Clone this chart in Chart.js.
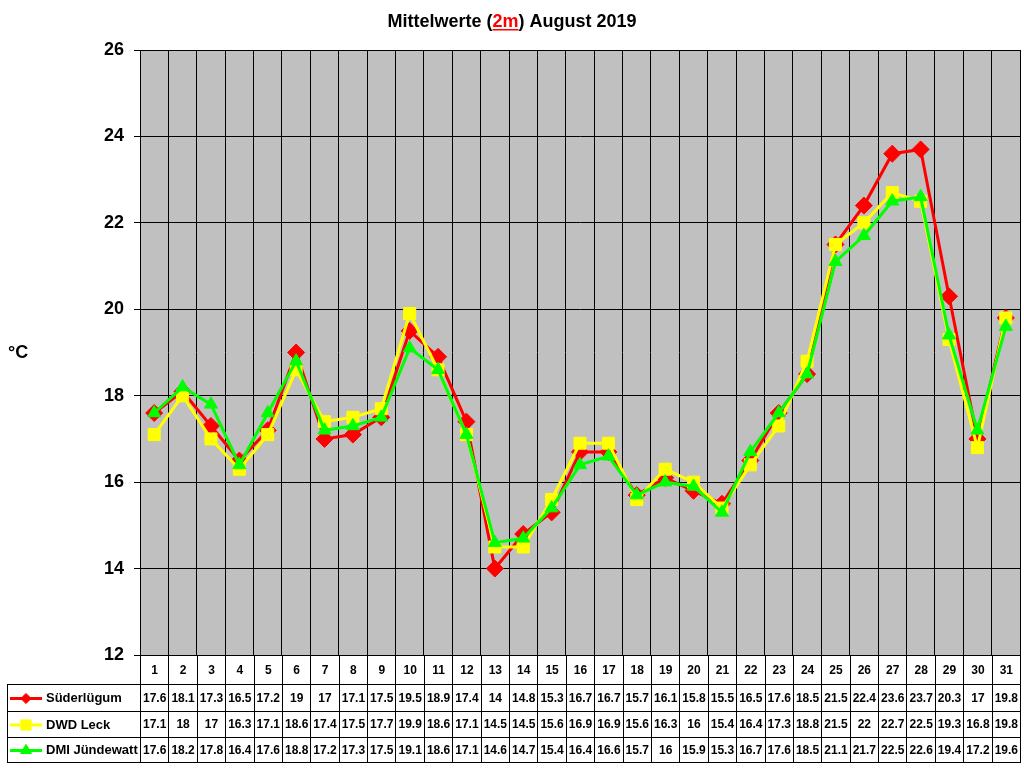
<!DOCTYPE html>
<html><head><meta charset="utf-8">
<script src="https://cdn.jsdelivr.net/npm/chart.js@4.4.1/dist/chart.umd.min.js"></script>
<style>html,body{margin:0;padding:0;background:#fff;overflow:hidden}#wrap{width:1024px;height:768px}</style>
</head><body><div id="wrap"><canvas id="c" width="1024" height="768"></canvas></div>
<script>
const days = ['1','2','3','4','5','6','7','8','9','10','11','12','13','14','15','16','17','18','19','20','21','22','23','24','25','26','27','28','29','30','31'];
const suederluegum = [17.6,18.1,17.3,16.5,17.2,19,17,17.1,17.5,19.5,18.9,17.4,14,14.8,15.3,16.7,16.7,15.7,16.1,15.8,15.5,16.5,17.6,18.5,21.5,22.4,23.6,23.7,20.3,17,19.8];
const dwdLeck = [17.1,18,17,16.3,17.1,18.6,17.4,17.5,17.7,19.9,18.6,17.1,14.5,14.5,15.6,16.9,16.9,15.6,16.3,16,15.4,16.4,17.3,18.8,21.5,22,22.7,22.5,19.3,16.8,19.8];
const dmiJuendewatt = [17.6,18.2,17.8,16.4,17.6,18.8,17.2,17.3,17.5,19.1,18.6,17.1,14.6,14.7,15.4,16.4,16.6,15.7,16,15.9,15.3,16.7,17.6,18.5,21.1,21.7,22.5,22.6,19.4,17.2,19.6];
const seriesNames = ['Süderlügum','DWD Leck','DMI Jündewatt'];
const seriesColors = ['#ff0000','#ffff00','#00ff00'];
const seriesStyles = ['rectRot','rect','triangle'];
const seriesRadius = [8.5,8.5,7.5];
const yMin = 12, yMax = 26, yStep = 2;
const titleParts = [['Mittelwerte (', '#000', false], ['2m', '#ff0000', true], [') August 2019', '#000', false]];
const yAxisTitle = '°C';

const FONT = 'Arial, "Liberation Sans", sans-serif';
const allSeries = [suederluegum, dwdLeck, dmiJuendewatt];

function drawMarker(ctx, style, r, x, y, color) {
  ctx.save();
  ctx.fillStyle = color; ctx.strokeStyle = color; ctx.lineWidth = 1;
  ctx.beginPath();
  if (style === 'rectRot') {
    const s = Math.SQRT1_2 * r;
    ctx.moveTo(x - s, y); ctx.lineTo(x, y - s); ctx.lineTo(x + s, y); ctx.lineTo(x, y + s);
  } else if (style === 'rect') {
    const s = Math.SQRT1_2 * r;
    ctx.rect(x - s, y - s, 2 * s, 2 * s);
  } else {
    const a = Math.PI / 2;
    for (let k = 0; k < 3; k++) {
      const ang = -a + k * 2 * Math.PI / 3;
      const px = x + Math.cos(ang) * r, py = y + Math.sin(ang) * r * 0.95;
      if (k === 0) ctx.moveTo(px, py); else ctx.lineTo(px, py);
    }
  }
  ctx.closePath(); ctx.fill(); ctx.stroke();
  ctx.restore();
}

const decor = {
  id: 'decor',
  beforeDraw(chart) {
    const { ctx, chartArea: a } = chart;
    ctx.save();
    ctx.fillStyle = '#c0c0c0';
    ctx.fillRect(a.left, a.top, a.right - a.left, a.bottom - a.top);
    ctx.restore();
  },
  beforeDatasetsDraw(chart) {
    const { ctx, chartArea: a } = chart;
    ctx.save();
    ctx.strokeStyle = '#000'; ctx.lineWidth = 1;
    ctx.strokeRect(Math.round(a.left) + 0.5, Math.round(a.top) + 0.5, Math.round(a.right - a.left), Math.round(a.bottom - a.top));
    ctx.restore();
  },
  afterDraw(chart) {
    const { ctx, chartArea: a } = chart;
    const xs = chart.scales.x;
    ctx.save();
    // title
    ctx.font = 'bold 18px ' + FONT;
    ctx.textBaseline = 'alphabetic';
    let total = 0;
    titleParts.forEach(p => total += ctx.measureText(p[0]).width);
    let tx = 512 - total / 2;
    titleParts.forEach(p => {
      const w = ctx.measureText(p[0]).width;
      ctx.fillStyle = p[1];
      ctx.fillText(p[0], tx, 27);
      if (p[2]) ctx.fillRect(tx, 29, w, 1.5);
      tx += w;
    });
    // y axis title
    ctx.fillStyle = '#000';
    ctx.font = 'bold 18px ' + FONT;
    ctx.textBaseline = 'middle';
    ctx.textAlign = 'left';
    ctx.fillText(yAxisTitle, 8, 353);

    // table
    const n = days.length;
    const cw = xs.getPixelForValue(1) - xs.getPixelForValue(0);
    const x0 = xs.getPixelForValue(0) - cw / 2;
    const bounds = [];
    for (let i = 0; i <= n; i++) bounds.push(Math.round(x0 + i * cw));
    const rowY = [Math.round(a.bottom), 684, 711, 737, 762];
    const tLeft = 7;
    const right = bounds[n];
    ctx.strokeStyle = '#000'; ctx.lineWidth = 1;
    ctx.beginPath();
    for (let r = 1; r < rowY.length; r++) {
      ctx.moveTo(tLeft, rowY[r] + 0.5); ctx.lineTo(right + 1, rowY[r] + 0.5);
    }
    ctx.moveTo(tLeft + 0.5, rowY[1]); ctx.lineTo(tLeft + 0.5, rowY[4] + 1);
    bounds.forEach(b => { ctx.moveTo(b + 0.5, rowY[0]); ctx.lineTo(b + 0.5, rowY[4] + 1); });
    ctx.stroke();

    ctx.textBaseline = 'middle';
    ctx.fillStyle = '#000';
    ctx.font = 'bold 12px ' + FONT;
    ctx.textAlign = 'center';
    days.forEach((d, i) => {
      ctx.fillText(d, xs.getPixelForValue(i) + 0.5, (rowY[0] + rowY[1]) / 2 + 1);
    });
    for (let s = 0; s < 3; s++) {
      const cy = (rowY[s + 1] + rowY[s + 2]) / 2 + 1;
      // legend key
      ctx.strokeStyle = seriesColors[s]; ctx.lineWidth = 3;
      ctx.beginPath(); ctx.moveTo(10, cy); ctx.lineTo(42, cy); ctx.stroke();
      drawMarker(ctx, seriesStyles[s], seriesRadius[s] * 0.85, 26, cy, seriesColors[s]);
      ctx.fillStyle = '#000'; ctx.textAlign = 'left';
      ctx.font = 'bold 13px ' + FONT;
      ctx.fillText(seriesNames[s], 46, cy);
      ctx.font = 'bold 12px ' + FONT;
      ctx.textAlign = 'center';
      allSeries[s].forEach((v, i) => {
        ctx.fillText(String(v), xs.getPixelForValue(i) + 0.5, cy);
      });
    }
    ctx.restore();
  }
};

const datasets = allSeries.map((d, s) => ({
  label: seriesNames[s],
  data: d,
  borderColor: seriesColors[s],
  backgroundColor: seriesColors[s],
  borderWidth: 3,
  pointStyle: seriesStyles[s],
  pointRadius: seriesRadius[s],
  pointBorderWidth: 1,
  pointBorderColor: seriesColors[s],
  pointBackgroundColor: seriesColors[s],
  tension: 0,
  fill: false,
  order: 2 - s
}));

new Chart(document.getElementById('c'), {
  type: 'line',
  data: { labels: days, datasets },
  options: {
    responsive: false,
    animation: false,
    devicePixelRatio: 1,
    layout: { autoPadding: false, padding: { top: 50, right: 4, left: 0, bottom: 0 } },
    plugins: { legend: { display: false }, title: { display: false }, tooltip: { enabled: false } },
    scales: {
      x: {
        offset: true,
        grid: { color: '#000', offset: true, drawTicks: false, lineWidth: 1 },
        border: { color: '#000' },
        ticks: { display: false, autoSkip: false },
        afterFit(s) { s.height = 113; }
      },
      y: {
        min: yMin, max: yMax,
        ticks: { stepSize: yStep, color: '#000', font: { family: FONT, size: 18, weight: 'bold' }, padding: 10 },
        grid: { color: '#000', lineWidth: 1, tickLength: 6 },
        border: { color: '#000' },
        afterFit(s) { s.width = 140; }
      }
    }
  },
  plugins: [decor]
});
</script>
</body></html>
